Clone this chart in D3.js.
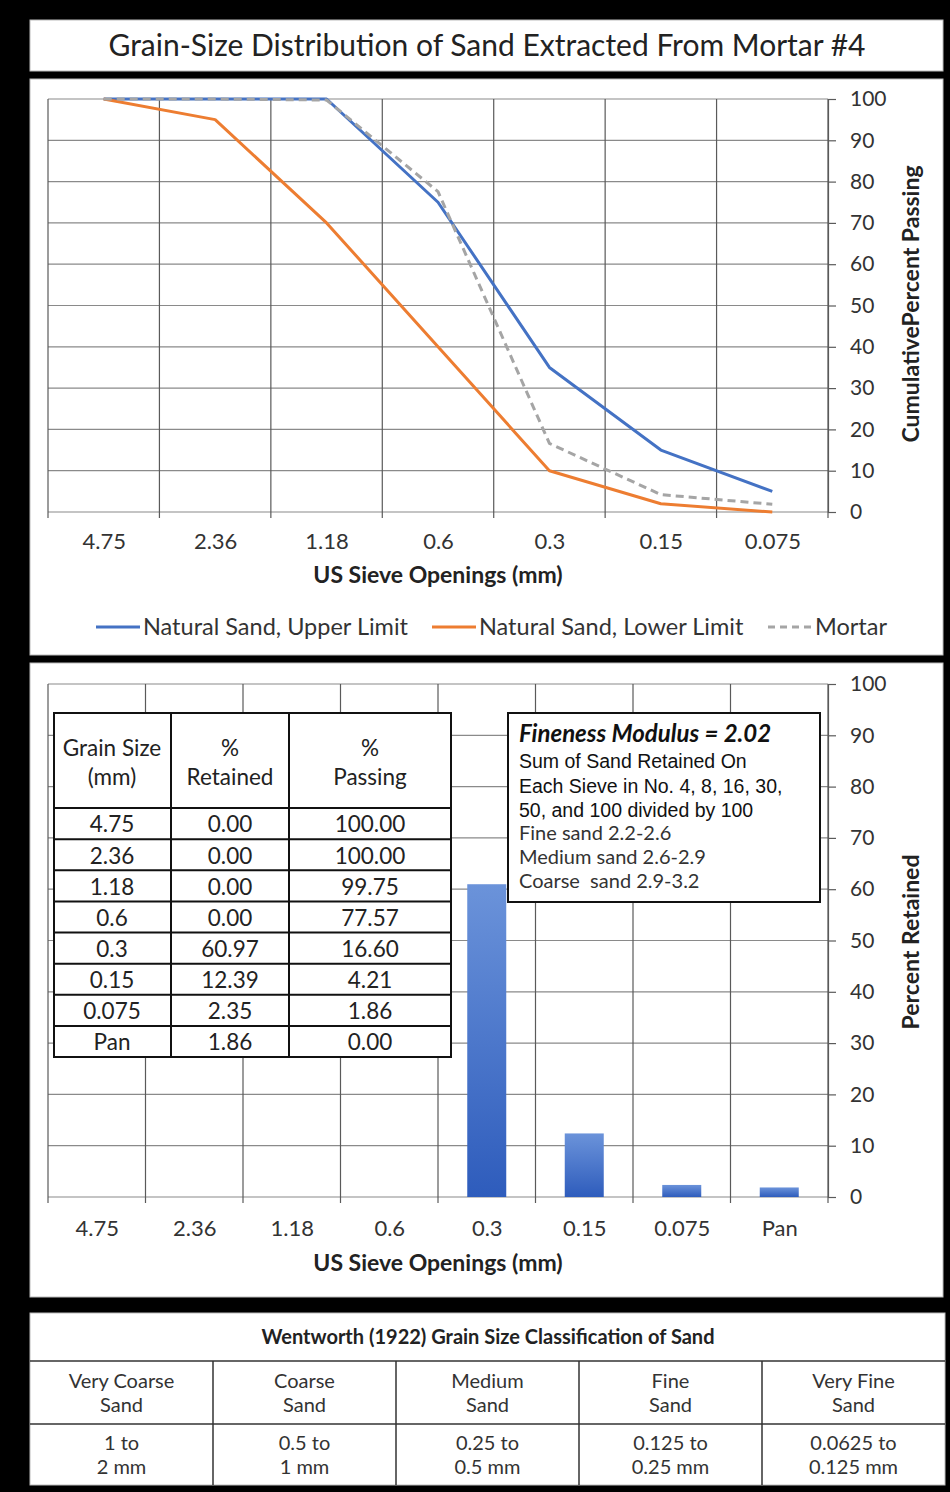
<!DOCTYPE html>
<html>
<head>
<meta charset="utf-8">
<script src="https://cdn.jsdelivr.net/npm/d3@7"></script>
<style>
  body { margin: 0; background: #000; }
  svg { display: block; font-family: Lato, "Open Sans", sans-serif; }
</style>
</head>
<body>
<svg id="chart" width="950" height="1492"></svg>
<script>
// ---- data ----
const sieveLabels = ["4.75", "2.36", "1.18", "0.6", "0.3", "0.15", "0.075"];
const upperLimit = [100, 100, 100, 75, 35, 15, 5];
const lowerLimit = [100, 95, 70, 40, 10, 2, 0];
const mortarPassing = [100, 100, 99.75, 77.57, 16.60, 4.21, 1.86];

const retainedLabels = ["4.75", "2.36", "1.18", "0.6", "0.3", "0.15", "0.075", "Pan"];
const percentRetained = [0.00, 0.00, 0.00, 0.00, 60.97, 12.39, 2.35, 1.86];
const percentPassing = [100.00, 100.00, 99.75, 77.57, 16.60, 4.21, 1.86, 0.00];

const percentTicks = [0, 10, 20, 30, 40, 50, 60, 70, 80, 90, 100];
const finenessModulus = 2.02;
const finenessLines = ["Sum of Sand Retained On", "Each Sieve in No. 4, 8, 16, 30,", "50, and 100 divided by 100"];
const finenessRanges = ["Fine sand 2.2-2.6", "Medium sand 2.6-2.9", "Coarse  sand 2.9-3.2"];

const wentworthNames = [["Very Coarse", "Sand"], ["Coarse", "Sand"], ["Medium", "Sand"], ["Fine", "Sand"], ["Very Fine", "Sand"]];
const wentworthRanges = [["1 to", "2 mm"], ["0.5 to", "1 mm"], ["0.25 to", "0.5 mm"], ["0.125 to", "0.25 mm"], ["0.0625 to", "0.125 mm"]];

const legendItems = [
  { name: "Natural Sand, Upper Limit", color: "#4472C4", dash: null, x: 96 },
  { name: "Natural Sand, Lower Limit", color: "#ED7D31", dash: null, x: 432 },
  { name: "Mortar", color: "#A5A5A5", dash: "7,5", x: 768 }
];

const svg = d3.select("#chart");

// ---- panels ----
const panels = [
  { x: 30, y: 20, w: 913, h: 51 },
  { x: 30, y: 79, w: 913, h: 576 },
  { x: 30, y: 663, w: 913, h: 634 },
  { x: 30, y: 1313, w: 915, h: 172 }
];
svg.selectAll("rect.panel").data(panels).join("rect")
  .attr("class", "panel")
  .attr("x", d => d.x).attr("y", d => d.y)
  .attr("width", d => d.w).attr("height", d => d.h)
  .attr("fill", "#fff").attr("stroke", "#bbb").attr("stroke-width", 1);

svg.append("text")
  .attr("x", 487).attr("y", 56)
  .attr("text-anchor", "middle")
  .attr("font-size", 30).attr("fill", "#222")
  .text("Grain-Size Distribution of Sand Extracted From Mortar #4");

// ---- helpers ----
function gridAndAxes(g, band, y, top, bottom, left, right) {
  // horizontal gridlines
  g.append("g").selectAll("line").data(percentTicks).join("line")
    .attr("x1", left).attr("x2", right)
    .attr("y1", d => y(d)).attr("y2", d => y(d))
    .attr("stroke", "#8a8a8a").attr("stroke-width", 1.2);
  // vertical category boundaries, extended below as tick marks
  const n = band.domain().length;
  const bounds = d3.range(n + 1).map(i => left + i * band.step());
  g.append("g").selectAll("line").data(bounds).join("line")
    .attr("x1", d => d).attr("x2", d => d)
    .attr("y1", top).attr("y2", bottom + 6)
    .attr("stroke", "#5a5a5a").attr("stroke-width", 1.2);
  // right value axis
  const ax = g.append("g")
    .attr("transform", `translate(${right},0)`)
    .call(d3.axisRight(y).tickValues(percentTicks).tickSize(8).tickSizeOuter(0).tickPadding(14));
  ax.select(".domain").attr("stroke", "#5a5a5a").attr("stroke-width", 1.2);
  ax.selectAll(".tick line").attr("stroke", "#5a5a5a").attr("stroke-width", 1.2);
  ax.selectAll("text").attr("font-size", 21).attr("fill", "#333")
    .style("font-family", "Lato, sans-serif");
}

function categoryLabels(g, scale, yBase, offset) {
  const ax = g.append("g")
    .attr("transform", `translate(0,${yBase})`)
    .call(d3.axisBottom(scale).tickSize(0).tickSizeOuter(0));
  ax.select(".domain").remove();
  ax.selectAll("text").attr("y", offset).attr("dy", "0.35em")
    .attr("font-size", 22).attr("fill", "#333")
    .style("font-family", "Lato, sans-serif");
}

// ---- top chart: cumulative percent passing ----
const L = 48, R = 828;
const top1 = 99, bot1 = 512;
const xBand1 = d3.scaleBand().domain(sieveLabels).range([L, R]);
const xPt1 = d3.scalePoint().domain(sieveLabels).range([L, R]).padding(0.5);
const y1 = d3.scaleLinear().domain([0, 100]).range([bot1, top1]);
const g1 = svg.append("g");
gridAndAxes(g1, xBand1, y1, top1, bot1, L, R);
categoryLabels(g1, xPt1, bot1, 29);

g1.append("text").attr("x", 438).attr("y", 583).attr("text-anchor", "middle")
  .attr("font-size", 23).attr("font-weight", "bold").attr("fill", "#222")
  .text("US Sieve Openings (mm)");
g1.append("text").attr("transform", "translate(911,304) rotate(-90)")
  .attr("text-anchor", "middle").attr("dy", "0.35em")
  .attr("font-size", 23).attr("font-weight", "bold").attr("fill", "#222")
  .text("CumulativePercent Passing");

const line1 = d3.line().x((d, i) => xPt1(sieveLabels[i])).y(d => y1(d));
const series = [
  { values: upperLimit, color: "#4472C4", dash: null },
  { values: lowerLimit, color: "#ED7D31", dash: null },
  { values: mortarPassing, color: "#A5A5A5", dash: "8,5" }
];
g1.append("g").selectAll("path").data(series).join("path")
  .attr("d", d => line1(d.values))
  .attr("fill", "none")
  .attr("stroke", d => d.color)
  .attr("stroke-width", 3)
  .attr("stroke-linejoin", "round")
  .attr("stroke-dasharray", d => d.dash);

// legend
const lg = g1.append("g").selectAll("g").data(legendItems).join("g")
  .attr("transform", d => `translate(${d.x},627)`);
lg.append("line").attr("x1", 0).attr("x2", 44).attr("y1", 0).attr("y2", 0)
  .attr("stroke", d => d.color).attr("stroke-width", 3)
  .attr("stroke-dasharray", d => d.dash);
lg.append("text").attr("x", 47).attr("dy", "0.35em")
  .attr("font-size", 23.5).attr("fill", "#333")
  .text(d => d.name);

// ---- bottom chart: percent retained ----
const top2 = 684, bot2 = 1197;
const xBand2 = d3.scaleBand().domain(retainedLabels).range([L, R]);
const xBar2 = d3.scaleBand().domain(retainedLabels).range([L, R]).paddingInner(0.6).paddingOuter(0.3);
const xPt2 = d3.scalePoint().domain(retainedLabels).range([L, R]).padding(0.5);
const y2 = d3.scaleLinear().domain([0, 100]).range([bot2, top2]);
const g2 = svg.append("g");
gridAndAxes(g2, xBand2, y2, top2, bot2, L, R);
categoryLabels(g2, xPt2, bot2, 31);

g2.append("text").attr("x", 438).attr("y", 1271).attr("text-anchor", "middle")
  .attr("font-size", 23).attr("font-weight", "bold").attr("fill", "#222")
  .text("US Sieve Openings (mm)");
g2.append("text").attr("transform", "translate(911,942) rotate(-90)")
  .attr("text-anchor", "middle").attr("dy", "0.35em")
  .attr("font-size", 23).attr("font-weight", "bold").attr("fill", "#222")
  .text("Percent Retained");

const grad = svg.append("defs").append("linearGradient")
  .attr("id", "barFill").attr("x1", 0).attr("y1", 0).attr("x2", 0).attr("y2", 1);
grad.append("stop").attr("offset", "0%").attr("stop-color", "#6b93da");
grad.append("stop").attr("offset", "100%").attr("stop-color", "#2e5cbc");

g2.append("g").selectAll("rect").data(percentRetained).join("rect")
  .attr("x", (d, i) => xBar2(retainedLabels[i]))
  .attr("width", xBar2.bandwidth())
  .attr("y", d => y2(d))
  .attr("height", d => bot2 - y2(d))
  .attr("fill", "url(#barFill)");

// data table
const cols = [54, 171, 289, 451];
const headTop = 713, headBot = 808, rowH = (1057 - 808) / retainedLabels.length;
const tbl = g2.append("g");
tbl.append("rect").attr("x", cols[0]).attr("y", headTop)
  .attr("width", cols[3] - cols[0]).attr("height", 1057 - headTop)
  .attr("fill", "#fff").attr("stroke", "#111").attr("stroke-width", 2);
tbl.selectAll("line.col").data(cols.slice(1, 3)).join("line")
  .attr("x1", d => d).attr("x2", d => d).attr("y1", headTop).attr("y2", 1057)
  .attr("stroke", "#111").attr("stroke-width", 2);
tbl.selectAll("line.row").data(d3.range(retainedLabels.length)).join("line")
  .attr("x1", cols[0]).attr("x2", cols[3])
  .attr("y1", i => headBot + i * rowH).attr("y2", i => headBot + i * rowH)
  .attr("stroke", "#111").attr("stroke-width", 2);
const colMid = [112, 230, 370];
const headers = [["Grain Size", "(mm)"], ["%", "Retained"], ["%", "Passing"]];
headers.forEach((h, c) => {
  h.forEach((t, k) => {
    tbl.append("text").attr("x", colMid[c]).attr("y", 748 + k * 29)
      .attr("text-anchor", "middle").attr("dy", "0.35em")
      .attr("font-size", 22.5).attr("fill", "#222").text(t);
  });
});
const rows = retainedLabels.map((s, i) => [s, percentRetained[i].toFixed(2), percentPassing[i].toFixed(2)]);
rows.forEach((r, i) => {
  r.forEach((t, c) => {
    tbl.append("text").attr("x", colMid[c]).attr("y", headBot + i * rowH + rowH / 2 + 1)
      .attr("text-anchor", "middle").attr("dy", "0.35em")
      .attr("font-size", 22.5).attr("fill", "#222").text(t);
  });
});

// fineness modulus note
const fm = g2.append("g");
fm.append("rect").attr("x", 508).attr("y", 713).attr("width", 312).attr("height", 189)
  .attr("fill", "#fff").attr("stroke", "#111").attr("stroke-width", 2);
fm.append("text").attr("x", 519).attr("y", 742)
  .attr("font-size", 24).attr("font-weight", "bold").attr("font-style", "italic").attr("fill", "#111")
  .text(`Fineness Modulus = ${finenessModulus.toFixed(2)}`);
finenessLines.forEach((t, i) => {
  fm.append("text").attr("x", 519).attr("y", 768 + i * 24.5)
    .style("font-family", "'Liberation Sans', Arial, sans-serif")
    .attr("font-size", 19.5).attr("fill", "#111").text(t);
});
finenessRanges.forEach((t, i) => {
  fm.append("text").attr("x", 519).attr("y", 840 + i * 24)
    .attr("font-size", 20).attr("fill", "#333")
    .style("white-space", "pre").text(t);
});

// ---- Wentworth classification table ----
const wt = svg.append("g");
const wL = 30, wR = 945, colW = (wR - wL) / wentworthNames.length;
wt.append("text").attr("x", 488).attr("y", 1337).attr("dy", "0.35em")
  .attr("text-anchor", "middle").attr("font-size", 20).attr("font-weight", "bold").attr("fill", "#222")
  .text("Wentworth (1922) Grain Size Classification of Sand");
[1361, 1424].forEach(yy => {
  wt.append("line").attr("x1", wL).attr("x2", wR).attr("y1", yy).attr("y2", yy)
    .attr("stroke", "#333").attr("stroke-width", 1.5);
});
wt.selectAll("line.v").data(d3.range(1, wentworthNames.length)).join("line")
  .attr("x1", i => wL + i * colW).attr("x2", i => wL + i * colW)
  .attr("y1", 1361).attr("y2", 1485)
  .attr("stroke", "#333").attr("stroke-width", 1.5);
[[wentworthNames, 1381], [wentworthRanges, 1443]].forEach(([arr, y0]) => {
  arr.forEach((pair, i) => {
    pair.forEach((t, k) => {
      wt.append("text").attr("x", wL + (i + 0.5) * colW).attr("y", y0 + k * 24)
        .attr("dy", "0.35em").attr("text-anchor", "middle")
        .attr("font-size", 20).attr("fill", "#333").text(t);
    });
  });
});
</script>
</body>
</html>
